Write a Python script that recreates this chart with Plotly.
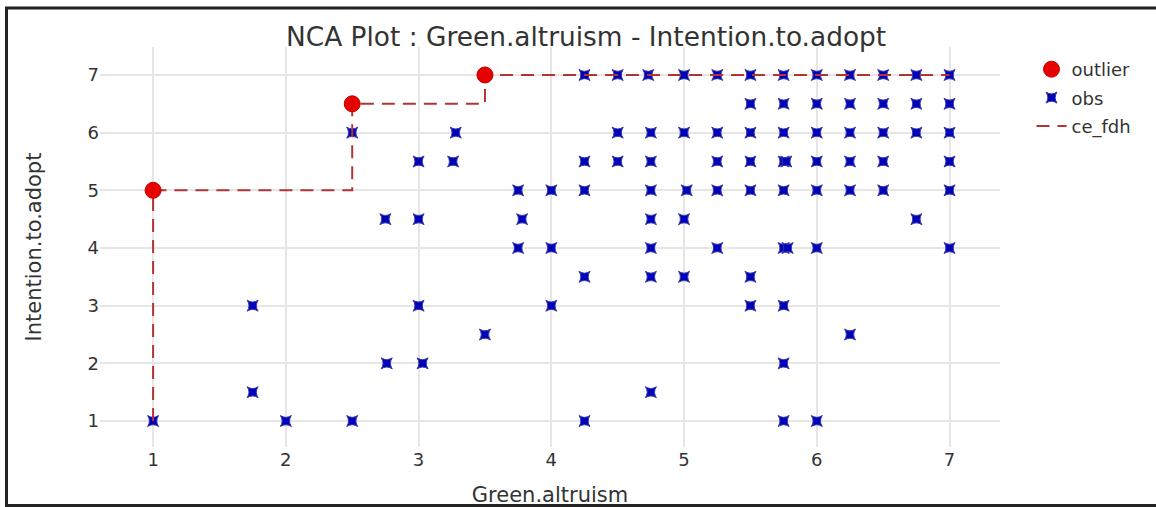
import plotly.graph_objects as go

# ---- data ----
obs_x = [1, 1.75, 1.75, 2, 2.5, 2.5, 2.75, 2.76, 3, 3, 3, 3.03, 3.26, 3.28, 3.5,
         3.75, 3.78, 3.75, 4, 4, 4,
         4.25, 4.5, 4.73, 5, 5.25,
         4.5, 4.75, 5, 5.25,
         4.25, 4.5, 4.75, 5.25,
         4.25, 4.75, 5.02, 5.25,
         4.75, 5,
         4.75, 5.25,
         4.25, 4.75, 5,
         4.75,
         4.25,
         5.5, 5.75, 6, 6.25, 6.5, 6.75, 7,
         5.5, 5.75, 6, 6.25, 6.5, 6.75, 7,
         5.5, 5.75, 6, 6.25, 6.5, 6.75, 7,
         5.5, 5.75, 5.77, 6, 6.25, 6.5, 7,
         5.5, 5.75, 6, 6.25, 6.5, 7,
         6.75,
         5.75, 5.78, 6, 7,
         5.5,
         5.5, 5.75,
         6.25,
         5.75,
         5.75, 6]
obs_y = [1, 3, 1.5, 1, 1, 6, 4.5, 2, 5.5, 4.5, 3, 2, 5.5, 6, 2.5,
         5, 4.5, 4, 5, 4, 3,
         7, 7, 7, 7, 7,
         6, 6, 6, 6,
         5.5, 5.5, 5.5, 5.5,
         5, 5, 5, 5,
         4.5, 4.5,
         4, 4,
         3.5, 3.5, 3.5,
         1.5,
         1,
         7, 7, 7, 7, 7, 7, 7,
         6.5, 6.5, 6.5, 6.5, 6.5, 6.5, 6.5,
         6, 6, 6, 6, 6, 6, 6,
         5.5, 5.5, 5.5, 5.5, 5.5, 5.5, 5.5,
         5, 5, 5, 5, 5, 5,
         4.5,
         4, 4, 4, 4,
         3.5,
         3, 3,
         2.5,
         2,
         1, 1]

outlier_x = [1, 2.5, 3.5]
outlier_y = [5, 6.5, 7]

ce_fdh_x = [1, 1, 2.5, 2.5, 3.5, 3.5, 7]
ce_fdh_y = [1, 5, 5, 6.5, 6.5, 7, 7]

x_ticks = [1, 2, 3, 4, 5, 6, 7]
y_ticks = [1, 2, 3, 4, 5, 6, 7]

title_text = "NCA Plot : Green.altruism - Intention.to.adopt"
x_title = "Green.altruism"
y_title = "Intention.to.adopt"

FONT = "DejaVu Sans, Verdana, sans-serif"

fig = go.Figure()
fig.add_trace(go.Scatter(
    x=obs_x, y=obs_y, mode="markers", name="obs", legendrank=2, legendgroup="b",
    marker=dict(symbol="star-square", size=10, color="#0000bb",
                line=dict(color="#3a3aa8", width=1))))
fig.add_trace(go.Scatter(
    x=ce_fdh_x, y=ce_fdh_y, mode="lines", name="ce_fdh", legendrank=3, legendgroup="c",
    line=dict(color="#b03535", width=2, dash="13px,8px")))
fig.add_trace(go.Scatter(
    x=outlier_x, y=outlier_y, mode="markers", name="outlier", legendrank=1, legendgroup="a",
    marker=dict(symbol="circle", size=16, color="#e60000",
                line=dict(color="#c80000", width=1))))

fig.update_layout(
    width=1156, height=507,
    margin=dict(l=100, r=156, t=47, b=60, autoexpand=False),
    paper_bgcolor="white", plot_bgcolor="white",
    font=dict(family=FONT, color="#333333", size=18),
    title=dict(text=title_text, x=0.507, xanchor="center", xref="container",
               y=0.927, yanchor="middle", yref="container",
               font=dict(family=FONT, size=26.4, color="#333333")),
    legend=dict(x=1.035, xanchor="left", y=0.99, yanchor="top",
                traceorder="grouped", tracegroupgap=2,
                font=dict(family=FONT, size=18, color="#333333"),
                bgcolor="rgba(0,0,0,0)"),
    xaxis=dict(range=[0.6, 7.38], tickvals=x_ticks, showgrid=True,
               gridcolor="#e6e6e6", gridwidth=2, zeroline=False, showline=False,
               ticks="", tickfont=dict(size=18), ticklabelstandoff=0,
               automargin=False,
               title=dict(text=x_title, font=dict(size=21), standoff=30)),
    yaxis=dict(range=[0.55, 7.485], tickvals=y_ticks, showgrid=True,
               gridcolor="#e6e6e6", gridwidth=2, zeroline=False, showline=False,
               ticks="", tickfont=dict(size=18), automargin=False,
               title=dict(text=y_title, font=dict(size=21), standoff=40)),
    shapes=[dict(type="rect", xref="paper", yref="paper",
                 x0=(6.5 - 100) / 900, x1=(1162 - 100) / 900,
                 y0=(447 - 505.5) / 400, y1=(447 - 8) / 400,
                 line=dict(color="#222222", width=3), fillcolor="rgba(0,0,0,0)",
                 layer="above")],
)

fig.write_html("out.html", config={"displayModeBar": False},
               post_script="document.body.style.margin='0';document.body.style.padding='0';")
